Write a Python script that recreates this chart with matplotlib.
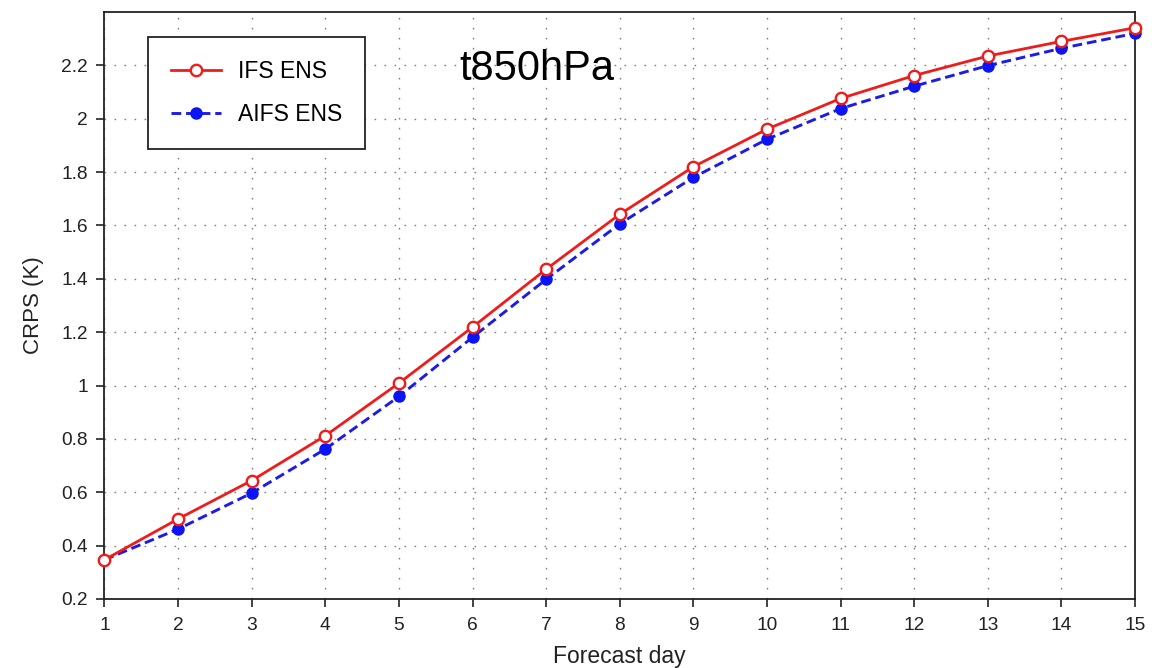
import matplotlib
matplotlib.use("Agg")
import matplotlib.pyplot as plt
from matplotlib.ticker import FuncFormatter

plt.rcParams['font.family'] = ['Liberation Sans', 'DejaVu Sans']
plt.rcParams['lines.scale_dashes'] = False

# CRPS of 850 hPa temperature by lead time
days = list(range(1, 16))
ifs_ens = [0.347, 0.500, 0.644, 0.812, 1.009, 1.219, 1.436, 1.642, 1.820,
           1.961, 2.076, 2.162, 2.235, 2.290, 2.341]
aifs_ens = [0.347, 0.462, 0.597, 0.762, 0.959, 1.181, 1.398, 1.606, 1.780,
            1.923, 2.038, 2.122, 2.199, 2.264, 2.320]

fig = plt.figure(figsize=(11.57, 6.68), dpi=100)
ax = fig.add_axes([0.0903, 0.1033, 0.8907, 0.8787])

l_aifs, = ax.plot(days, aifs_ens, color='#1c1ce6', linewidth=2.1,
                  dashes=(7, 3.5), marker='o', markersize=8,
                  markerfacecolor='#0a14f5', markeredgecolor='#0a14f5',
                  clip_on=False, zorder=3, label='AIFS ENS')
l_ifs, = ax.plot(days, ifs_ens, color='#f01c1c', linewidth=2.0,
                 marker='o', markersize=8.2, markerfacecolor='white',
                 markeredgecolor='#f01c1c', markeredgewidth=1.7,
                 clip_on=False, zorder=4, label='IFS ENS')

ax.set_xlim(1, 15)
ax.set_ylim(0.2, 2.4)
ax.set_xticks(days)
ax.set_yticks([0.2, 0.4, 0.6, 0.8, 1.0, 1.2, 1.4, 1.6, 1.8, 2.0, 2.2])
ax.yaxis.set_major_formatter(FuncFormatter(lambda v, p: f"{v:g}"))

ax.grid(True, color='#808080', linestyle=(0, (1.2, 6)), linewidth=1.0)
ax.set_axisbelow(True)

for s in ax.spines.values():
    s.set_linewidth(1.3)
    s.set_color('#222222')

ax.tick_params(direction='out', length=6, width=1.2, colors='#222222',
               labelsize=13.8, pad=6)
ax.tick_params(axis='x', pad=7)

ax.set_xlabel('Forecast day', fontsize=16.5, color='#222222', labelpad=8)
ax.set_ylabel('CRPS (K)', fontsize=16, color='#222222', labelpad=12)

ax.text(0.344, 0.884, 't850hPa', transform=ax.transAxes, fontsize=30,
        ha='left', va='baseline', color='black')

leg = ax.legend(handles=[l_ifs, l_aifs], loc='upper left',
                bbox_to_anchor=(0.0422, 0.957), borderaxespad=0,
                fontsize=16.5, frameon=True, fancybox=False,
                edgecolor='#222222', framealpha=1, borderpad=1.0,
                labelspacing=0.88, handlelength=2.2, handletextpad=0.72)
leg.get_frame().set_linewidth(1.3)

fig.savefig('out.png', dpi=100)
